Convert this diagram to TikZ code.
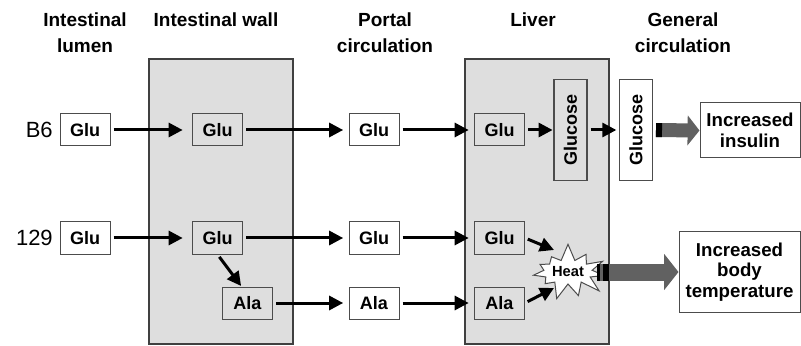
\documentclass[tikz,border=0pt]{standalone}
\usepackage{fontspec}
\setmainfont{Liberation Sans}
\usetikzlibrary{arrows.meta,shapes.symbols,calc}

\tikzset{
  title/.style={font=\fontsize{14.25}{19.5}\selectfont\bfseries, align=center, anchor=north, inner sep=0pt},
  strain/.style={font=\fontsize{16.5}{18}\selectfont, anchor=east, inner sep=0pt},
  panel/.style={draw=black!75, fill=black!13, line width=0.8pt},
  mol/.style={draw=black!70, fill=white, line width=0.75pt, minimum width=37.5pt, minimum height=24pt, inner sep=0pt, font=\fontsize{13.5}{16}\selectfont\bfseries},
  inside/.style={mol, fill=black!13},
  sugar/.style={mol, rotate=90, minimum width=75.75pt, minimum height=24.75pt},
  effect/.style={draw=black!70, fill=white, line width=0.75pt, align=center, inner sep=0pt, font=\fontsize{14}{15.5}\selectfont\bfseries},
  burst/.style={starburst, starburst points=11, starburst point height=13pt, random starburst=7, draw=black!70, fill=white, line width=0.75pt, inner sep=1pt, minimum width=51pt, minimum height=44pt, font=\fontsize{11}{13}\selectfont\bfseries},
  flow/.style={line width=2.25pt, -{Triangle[width=10.5pt,length=10.5pt]}, shorten <=2.25pt, shorten >=4pt},
  bigflow/.style={draw=black!62, line width=#1, -{Triangle[width=0pt 2.1,length=0pt 0.85]}},
  stripes/.style={draw=black, line width=#1}
}

\begin{document}
\begin{tikzpicture}[x=0.75pt,y=-0.75pt]
 \useasboundingbox (0,0) rectangle (801,346);
 \draw[panel] (149,59) rectangle (293,344);
 \draw[panel] (465,59) rectangle (609,344);

 \node[title] (tLumen) at (85,12) {Intestinal\\lumen};
 \node[title] (tWall) at (216,12) {Intestinal wall};
 \node[title] (tPortal) at (385,12) {Portal\\circulation};
 \node[title] (tLiver) at (533,12) {Liver};
 \node[title] (tGeneral) at (683,12) {General\\circulation};

 \node[strain] (sB6) at (53,130) {B6};
 \node[strain] (s129) at (53,238) {129};

 \node[mol] (lumA) at (85,130) {Glu};
 \node[inside] (wallA) at (217.5,130) {Glu};
 \node[mol] (portA) at (374,130) {Glu};
 \node[inside] (livA) at (499.5,130) {Glu};
 \node[sugar, fill=black!13, line width=1.1pt] (livGlc) at (570.5,130) {Glucose};
 \node[sugar] (genGlc) at (636,130) {Glucose};
 \node[effect, minimum width=75pt, minimum height=41.25pt] (insulin) at (750,130.5) {Increased\\insulin};

 \node[mol] (lumB) at (85,238) {Glu};
 \node[inside] (wallB) at (217.5,238) {Glu};
 \node[mol] (portB) at (374,238) {Glu};
 \node[inside] (livB) at (499.5,238) {Glu};
 \node[inside] (wallAla) at (247.5,303) {Ala};
 \node[mol] (portAla) at (374,303) {Ala};
 \node[inside] (livAla) at (499.5,303) {Ala};
 \node[burst] (heat) at (568,272) {Heat};
 \node[effect, minimum width=90.75pt, minimum height=60pt] (temp) at (739.5,272) {Increased\\body\\temperature};

 \draw[flow, shorten >=7pt] (lumA.east) -- (wallA.west);
 \draw[flow] (wallA.east) -- (portA.west);
 \draw[flow] (portA.east) -- (livA.west);
 \draw[flow, shorten >=0.5pt] (livA.east) -- (livGlc.north);
 \draw[flow, shorten >=2pt] (livGlc.south) -- (genGlc.north);

 \draw[flow, shorten >=7pt] (lumB.east) -- (wallB.west);
 \draw[flow] (wallB.east) -- (portB.west);
 \draw[flow] (portB.east) -- (livB.west);
 \draw[flow, shorten >=0.5pt] (wallB.south) -- ([xshift=-4.5pt]wallAla.north);
 \draw[flow] (wallAla.east) -- (portAla.west);
 \draw[flow] (portAla.east) -- (livAla.west);
 \draw[flow, shorten >=0pt] (livB.east) -- ($(heat.center)+(-14,-22)$);
 \draw[flow, shorten >=0pt] (livAla.east) -- ($(heat.center)+(-14,16)$);

 \draw[bigflow=10.5pt, shorten <=2.25pt] (genGlc.south) -- (insulin.west);
 \draw[stripes=10.5pt, dash pattern=on 4.5pt off 200pt, shorten <=2.25pt] (genGlc.south) -- (insulin.west);
 \draw[bigflow=12.75pt] (heat.east) -- (temp.west);
 \draw[stripes=12.75pt, dash pattern=on 2.25pt off 2.25pt on 4.5pt off 200pt] (heat.east) -- (temp.west);
\end{tikzpicture}
\end{document}
